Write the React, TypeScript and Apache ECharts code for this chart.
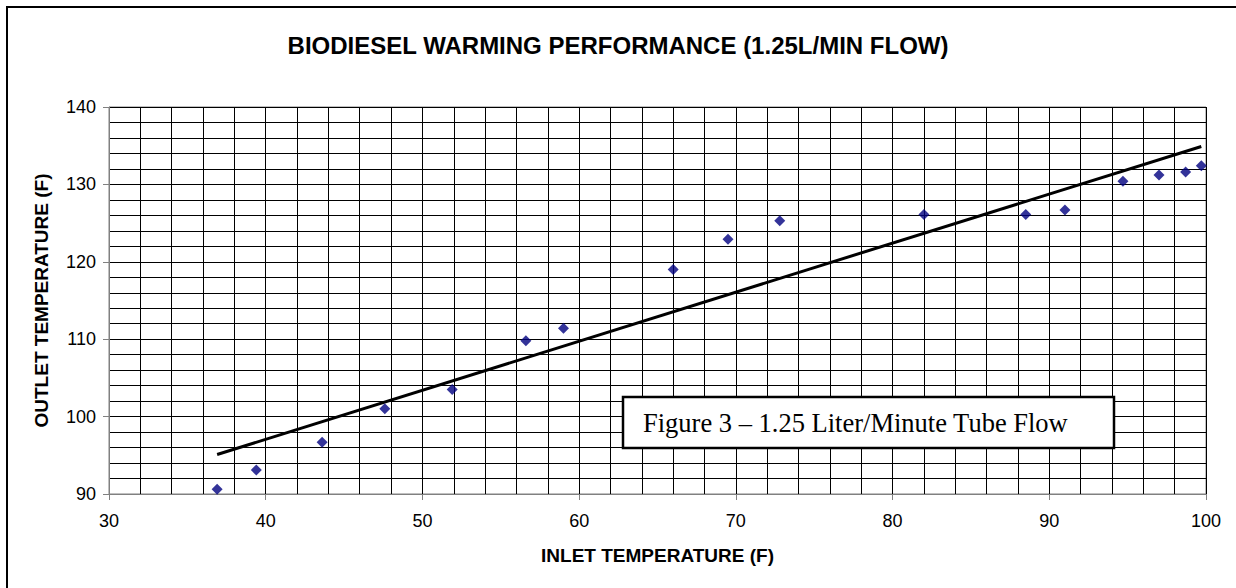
import React, { useEffect, useRef } from "react";
import * as echarts from "echarts";

const titleText = "BIODIESEL WARMING PERFORMANCE (1.25L/MIN FLOW)";
const xName = "INLET TEMPERATURE (F)";
const yName = "OUTLET TEMPERATURE (F)";
const noteText = "Figure 3 \u2013 1.25 Liter/Minute Tube Flow";

const inletTemps = [36.9, 39.4, 43.6, 47.6, 51.9, 56.6, 59.0, 66.0, 69.5, 72.8, 82.0, 88.5, 91.0, 94.7, 97.0, 98.7, 99.7];
const outletTemps = [90.6, 93.1, 96.7, 101.0, 103.5, 109.8, 111.4, 119.0, 122.9, 125.3, 126.1, 126.1, 126.7, 130.4, 131.2, 131.6, 132.4];
const trendX = [36.9, 99.7];
const trendY = [95.1, 134.9];

const xRange = [30, 100];
const yRange = [90, 140];

export default function App() {
  const ref = useRef<HTMLDivElement>(null);
  useEffect(() => {
    if (!ref.current) return;
    const chart = echarts.init(ref.current, null, { renderer: "svg" });
    const sans = "Liberation Sans, Arial, sans-serif";
    chart.setOption({
      animation: false,
      backgroundColor: "#ffffff",
      title: {
        text: titleText,
        left: "center",
        top: 28,
        textStyle: { fontFamily: sans, fontSize: 24, fontWeight: "bold", color: "#000" },
      },
      grid: {
        left: 109,
        top: 107,
        right: 30,
        bottom: 94,
        show: true,
        borderColor: "#808080",
        borderWidth: 1,
      },
      xAxis: {
        type: "value",
        min: xRange[0],
        max: xRange[1],
        interval: 10,
        name: xName,
        nameLocation: "middle",
        nameGap: 52,
        nameTextStyle: { fontFamily: sans, fontSize: 19, fontWeight: "bold", color: "#000" },
        axisLine: { show: true, lineStyle: { color: "#808080", width: 1 } },
        axisTick: { show: true, length: 6, lineStyle: { color: "#808080" } },
        minorTick: { show: false, splitNumber: 5 },
        axisLabel: { fontFamily: sans, fontSize: 18, color: "#000", margin: 18 },
        splitLine: { show: true, lineStyle: { color: "#000", width: 1 } },
        minorSplitLine: { show: true, lineStyle: { color: "#000", width: 1 } },
      },
      yAxis: {
        type: "value",
        min: yRange[0],
        max: yRange[1],
        interval: 10,
        name: yName,
        nameLocation: "middle",
        nameGap: 58,
        nameTextStyle: { fontFamily: sans, fontSize: 19, fontWeight: "bold", color: "#000" },
        axisLine: { show: true, lineStyle: { color: "#808080", width: 1 } },
        axisTick: { show: true, length: 6, lineStyle: { color: "#808080" } },
        minorTick: { show: false, splitNumber: 5 },
        axisLabel: { fontFamily: sans, fontSize: 18, color: "#000", margin: 13 },
        splitLine: { show: true, lineStyle: { color: "#000", width: 1 } },
        minorSplitLine: { show: true, lineStyle: { color: "#000", width: 1 } },
      },
      series: [
        {
          type: "line",
          data: trendX.map((x, i) => [x, trendY[i]]),
          showSymbol: false,
          symbol: "none",
          lineStyle: { color: "#000", width: 3 },
          z: 2,
        },
        {
          type: "scatter",
          data: inletTemps.map((x, i) => [x, outletTemps[i]]),
          symbol: "diamond",
          symbolSize: [11, 11],
          itemStyle: { color: "#000080" },
          z: 3,
        },
      ],
      graphic: [
        {
          type: "rect",
          shape: { x: 7, y: 7, width: 1400, height: 800 },
          style: { fill: "none", stroke: "#000", lineWidth: 2 },
          z: 100,
          silent: true,
        },
        {
          type: "rect",
          shape: { x: 623, y: 397, width: 491, height: 51 },
          style: { fill: "#fff", stroke: "#000", lineWidth: 2.5 },
          z: 100,
        },
        {
          type: "text",
          x: 643,
          y: 423,
          style: {
            text: noteText,
            fontFamily: "Liberation Serif, Times New Roman, serif",
            fontSize: 26.5,
            fill: "#000",
            textVerticalAlign: "middle",
            verticalAlign: "middle",
          },
          z: 101,
        },
      ],
    });
    return () => chart.dispose();
  }, []);
  return (
    <div
      ref={ref}
      style={{ position: "fixed", left: 0, top: 0, width: 1236, height: 588, background: "#fff" }}
    />
  );
}
